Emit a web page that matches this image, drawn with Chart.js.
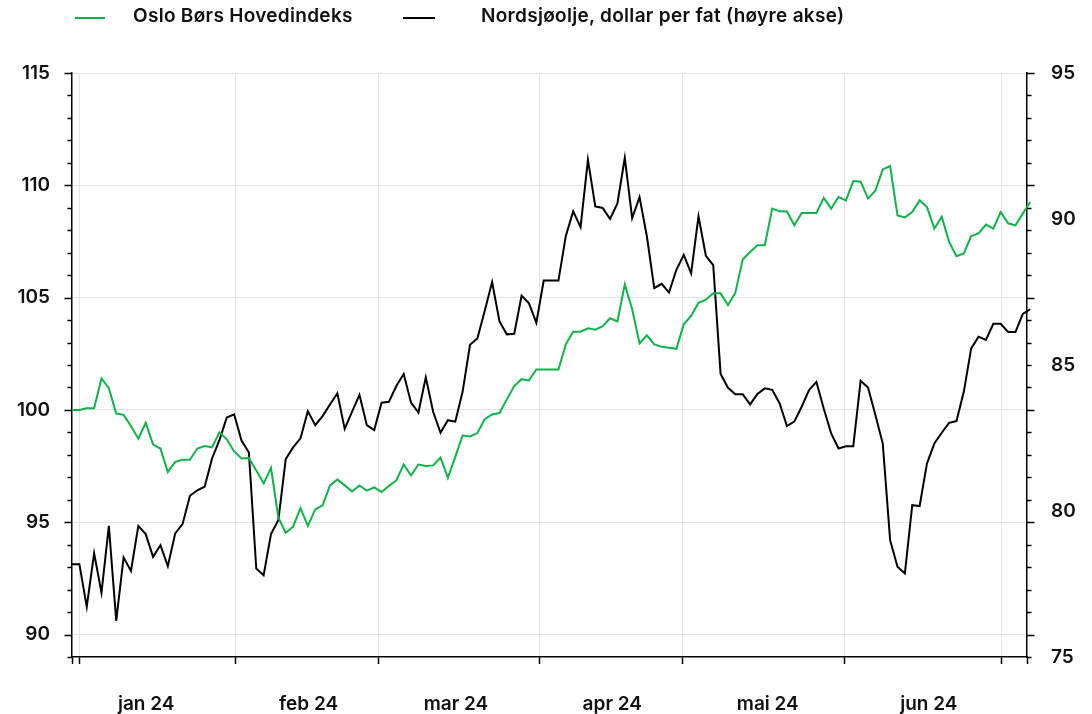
<!DOCTYPE html>
<html lang="no">
<head>
<meta charset="utf-8">
<title>Oslo Børs og Nordsjøolje</title>
<script src="https://cdn.jsdelivr.net/npm/chart.js@4.4.1/dist/chart.umd.min.js"></script>
<style>
  html, body { margin: 0; padding: 0; background: #fff; }
  #wrap { position: relative; width: 1092px; height: 714px; font-family: 'Inter', sans-serif; }
  #chart { position: absolute; left: 0; top: 0; }
  .legend-line { position: absolute; height: 2px; }
  .legend-text { position: absolute; font-size: 19px; font-weight: 600; line-height: 19px; letter-spacing: 0.3px; color: #111; white-space: nowrap; }
</style>
</head>
<body>
<div id="wrap">
  <canvas id="chart" width="1092" height="714"></canvas>
  <div class="legend-line" style="left:75px;top:17px;width:30px;background:#10b24c;"></div>
  <div class="legend-text" style="left:133px;top:6px;">Oslo Børs Hovedindeks</div>
  <div class="legend-line" style="left:403px;top:17px;width:32px;background:#000;"></div>
  <div class="legend-text" style="left:481px;top:6px;">Nordsjøolje, dollar per fat (høyre akse)</div>
</div>
<script>
// Oslo Børs hovedindeks (venstre akse), én verdi per handelsdag
const oseax = [
    100.0, 100.0, 100.07, 100.07, 101.4, 100.97, 99.84, 99.78, 99.28, 98.72,
    99.43, 98.46, 98.28, 97.23, 97.69, 97.78, 97.78, 98.28, 98.39, 98.33,
    99.0, 98.69, 98.15, 97.84, 97.86, 97.3, 96.73, 97.42, 95.2, 94.53,
    94.8, 95.63, 94.83, 95.57, 95.75, 96.64, 96.9, 96.64, 96.37, 96.64,
    96.41, 96.55, 96.35, 96.62, 96.86, 97.57, 97.08, 97.57, 97.5, 97.53,
    97.88, 96.98, 97.91, 98.86, 98.82, 98.97, 99.59, 99.8, 99.86, 100.47,
    101.06, 101.37, 101.31, 101.8, 101.8, 101.8, 101.8, 102.92, 103.48, 103.48,
    103.63, 103.57, 103.73, 104.08, 103.94, 105.59, 104.48, 102.96, 103.32, 102.92,
    102.81, 102.77, 102.72, 103.81, 104.18, 104.77, 104.91, 105.19, 105.19, 104.67,
    105.22, 106.7, 107.03, 107.33, 107.33, 108.96, 108.84, 108.83, 108.22, 108.77,
    108.77, 108.77, 109.44, 108.96, 109.48, 109.33, 110.19, 110.16, 109.41, 109.76,
    110.71, 110.86, 108.66, 108.57, 108.81, 109.33, 109.03, 108.07, 108.6, 107.48,
    106.84, 106.97, 107.74, 107.86, 108.25, 108.07, 108.81, 108.31, 108.22, 108.74,
    109.26
];

// Nordsjøolje, dollar per fat (høyre akse)
const brent = [
    78.18, 78.18, 76.72, 78.55, 77.2, 79.49, 76.24, 78.41, 77.95, 79.49,
    79.21, 78.43, 78.83, 78.11, 79.23, 79.55, 80.52, 80.71, 80.83, 81.8,
    82.43, 83.2, 83.31, 82.41, 82.0, 78.03, 77.8, 79.21, 79.69, 81.78,
    82.18, 82.49, 83.42, 82.94, 83.25, 83.65, 84.03, 82.81, 83.4, 83.98,
    82.94, 82.77, 83.71, 83.74, 84.28, 84.69, 83.71, 83.37, 84.58, 83.4,
    82.68, 83.11, 83.06, 84.09, 85.69, 85.91, 86.86, 87.84, 86.49, 86.05,
    86.07, 87.38, 87.11, 86.45, 87.89, 87.89, 87.89, 89.42, 90.26, 89.72,
    92.03, 90.43, 90.38, 90.0, 90.53, 92.09, 90.03, 90.75, 89.4, 87.63,
    87.78, 87.48, 88.26, 88.77, 88.14, 90.09, 88.74, 88.42, 84.69, 84.22,
    84.0, 84.0, 83.65, 84.01, 84.2, 84.15, 83.69, 82.91, 83.06, 83.57,
    84.14, 84.42, 83.5, 82.66, 82.14, 82.22, 82.22, 84.46, 84.23, 83.29,
    82.31, 79.0, 78.09, 77.86, 80.2, 80.17, 81.63, 82.31, 82.68, 83.02,
    83.08, 84.09, 85.57, 85.97, 85.86, 86.41, 86.41, 86.13, 86.13, 86.75,
    86.91
];

// Month boundaries and month labels, in trading-day units
const monthStarts = [1.03, 22.24, 41.57, 63.4, 82.85, 104.76, 126.1];
const monthLabels = ['jan 24', 'feb 24', 'mar 24', 'apr 24', 'mai 24', 'jun 24'];
const monthLabelPos = [10.07, 32.1, 52.1, 73.3, 94.4, 116.25];

const X_MAX = 129.57;
const GREEN = '#10b24c';
const GRID = '#e4e4e4';
const FONT = { family: 'Inter', size: 19, weight: '600' };

const labelAt = {};
monthLabelPos.forEach((p, i) => { labelAt[p] = monthLabels[i]; });

// small tick marks on both y axes (right side mirrors the left axis)
const axisTicks = {
    id: 'axisTicks',
    afterDraw(chart) {
        const yl = chart.scales.y;
        const area = chart.chartArea;
        const ctx = chart.ctx;
        ctx.save();
        ctx.strokeStyle = '#000';
        ctx.lineWidth = 1.5;
        for (let v = yl.min; v <= yl.max; v++) {
            const y = Math.round(yl.getPixelForValue(v)) + 0.5;
            const len = v % 5 === 0 ? 7.5 : 4.5;
            ctx.beginPath();
            ctx.moveTo(area.left, y);
            ctx.lineTo(area.left - len, y);
            ctx.moveTo(area.right, y);
            ctx.lineTo(area.right + len, y);
            ctx.stroke();
        }
        ctx.restore();
    }
};

const ctx = document.getElementById('chart').getContext('2d');
new Chart(ctx, {
    type: 'line',
    data: {
        datasets: [
            {
                label: 'Oslo Børs Hovedindeks',
                data: oseax.map((v, i) => ({ x: i, y: v })),
                yAxisID: 'y',
                borderColor: GREEN,
                borderWidth: 2,
                pointRadius: 0,
                tension: 0,
                clip: false
            },
            {
                label: 'Nordsjøolje, dollar per fat (høyre akse)',
                data: brent.map((v, i) => ({ x: i, y: v })),
                yAxisID: 'y2',
                borderColor: '#000',
                borderWidth: 2,
                pointRadius: 0,
                tension: 0,
                clip: false
            }
        ]
    },
    options: {
        responsive: false,
        animation: false,
        layout: { padding: { top: 73, left: 0, right: 0, bottom: 0 } },
        plugins: {
            legend: { display: false },
            tooltip: { enabled: false }
        },
        scales: {
            x: {
                type: 'linear',
                min: 0,
                max: X_MAX,
                afterBuildTicks(scale) {
                    const vals = [0, ...monthStarts, ...monthLabelPos, X_MAX].sort((a, b) => a - b);
                    scale.ticks = vals.map(v => ({ value: v }));
                },
                afterFit(scale) { scale.height = 57; },
                border: { display: true, color: '#000', width: 1.5 },
                grid: {
                    color: c => monthStarts.includes(c.tick.value) ? GRID : 'transparent',
                    tickColor: c => (c.tick.value in labelAt) ? 'transparent' : '#000',
                    tickLength: 7,
                    tickWidth: 1.5,
                    lineWidth: 1
                },
                ticks: {
                    autoSkip: false,
                    maxRotation: 0,
                    padding: 29,
                    color: '#111',
                    font: FONT,
                    callback: v => labelAt[v] || ''
                }
            },
            y: {
                position: 'left',
                min: 89,
                max: 115,
                afterFit(scale) { scale.width = 72; },
                border: { display: true, color: '#000', width: 1.5 },
                grid: {
                    color: c => c.tick.value % 5 === 0 ? GRID : 'transparent',
                    drawTicks: false,
                    lineWidth: 1
                },
                ticks: {
                    stepSize: 1,
                    padding: 22,
                    color: '#111',
                    font: FONT,
                    autoSkip: false,
                    callback: v => v % 5 === 0 ? v : ''
                }
            },
            y2: {
                position: 'right',
                min: 75,
                max: 95,
                afterFit(scale) { scale.width = 65; },
                border: { display: true, color: '#000', width: 1.5 },
                grid: { drawOnChartArea: false, drawTicks: false },
                ticks: {
                    stepSize: 5,
                    padding: 24,
                    color: '#111',
                    font: FONT
                }
            }
        }
    },
    plugins: [axisTicks]
});
</script>
</body>
</html>
